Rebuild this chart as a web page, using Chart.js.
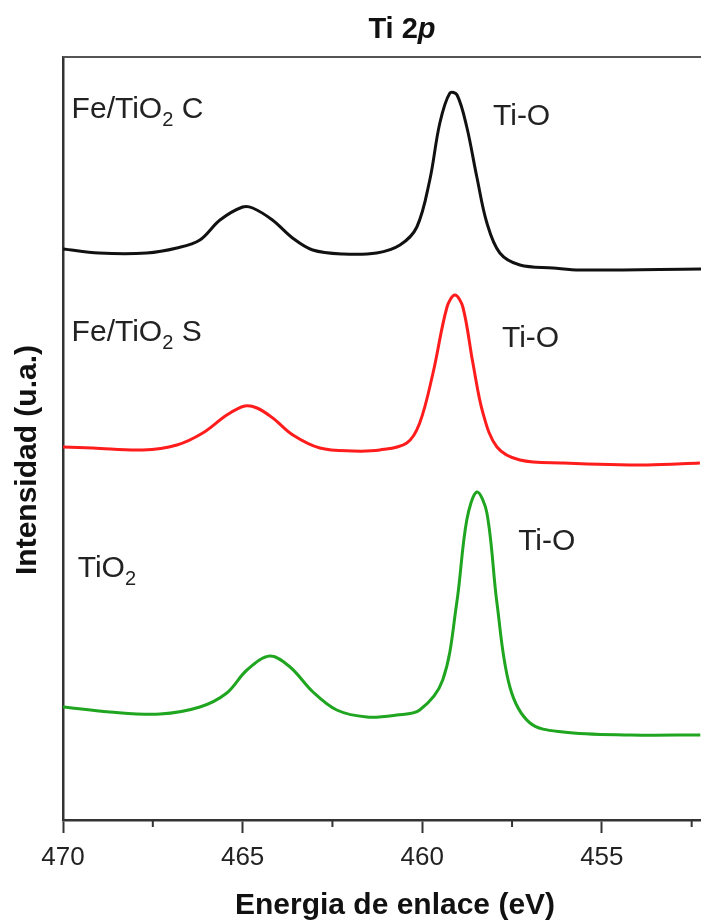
<!DOCTYPE html>
<html>
<head>
<meta charset="utf-8">
<script src="https://cdn.jsdelivr.net/npm/chart.js@4.4.1/dist/chart.umd.min.js"></script>
<style>
  html, body { margin: 0; padding: 0; background: #fff; }
  #wrap { width: 701px; height: 922px; position: relative; }
</style>
</head>
<body>
<div id="wrap"><canvas id="chart"></canvas></div>
<script>
// binding energy (eV) and intensity (a.u., offset stacked)
const feTiO2cEnergy = [470.0, 469.0, 467.67, 466.83, 466.19, 465.63, 465.0, 464.72, 464.17, 463.61, 463.05, 462.21, 461.27, 460.62, 460.15, 459.79, 459.51, 459.23, 459.03, 458.76, 458.48, 458.2, 457.84, 457.28, 456.36, 455.61, 452.24];
const feTiO2cIntensity = [571, 567, 567, 572, 580, 600, 613, 612, 600, 582, 570, 566, 567, 575, 593, 640, 697, 727, 725, 693, 643, 597, 567, 555, 552, 550, 551];

const feTiO2sEnergy = [470.0, 469.17, 467.78, 466.83, 466.11, 465.44, 464.94, 464.6, 464.16, 463.6, 462.85, 461.93, 461.18, 460.43, 460.07, 459.7, 459.31, 459.09, 458.87, 458.59, 458.31, 457.92, 457.28, 456.08, 453.74, 452.27];
const feTiO2sIntensity = [373, 372, 370, 375, 387, 405, 414, 412, 402, 385, 372, 369, 370, 377, 397, 447, 513, 525, 513, 457, 407, 373, 360, 357, 355, 357];

const tiO2Energy = [470.0, 468.7, 467.3, 466.19, 465.44, 464.88, 464.24, 463.68, 463.04, 462.38, 461.54, 460.71, 460.07, 459.43, 459.04, 458.76, 458.48, 458.2, 457.92, 457.56, 457.0, 456.08, 454.21, 452.26];
const tiO2Intensity = [113, 108, 106, 113, 127, 150, 164, 153, 128, 110, 103, 105, 110, 140, 217, 300, 328, 307, 217, 133, 97, 88, 85, 85];

const majorTicks = [470, 465, 460, 455];
const minorTicks = [467.5, 462.5, 457.5, 452.5];

// sample labels: [main, subscript, tail], anchored in data units
const sampleLabels = [
  { parts: ['Fe/TiO', '2', ' C'], x: 469.76, y: 702 },
  { parts: ['Fe/TiO', '2', ' S'], x: 469.76, y: 479 },
  { parts: ['TiO', '2', ''], x: 469.59, y: 243 }
];
const peakLabels = [
  { text: 'Ti-O', x: 458.03, y: 695 },
  { text: 'Ti-O', x: 457.78, y: 473 },
  { text: 'Ti-O', x: 457.33, y: 270 }
];

const FONT = '"Liberation Sans", Arial, sans-serif';

function toPoints(xs, ys) {
  return xs.map((x, i) => ({ x: x, y: ys[i] }));
}

const textPlugin = {
  id: 'xpsText',
  afterDraw(chart) {
    const ctx = chart.ctx;
    const area = chart.chartArea;
    const xs = chart.scales.x;
    const ys = chart.scales.y;
    ctx.save();

    // top frame line
    ctx.strokeStyle = '#555';
    ctx.lineWidth = 2;
    ctx.beginPath();
    ctx.moveTo(area.left, area.top);
    ctx.lineTo(area.right, area.top);
    ctx.stroke();

    // minor ticks
    ctx.strokeStyle = '#333';
    ctx.lineWidth = 2;
    minorTicks.forEach(v => {
      const px = xs.getPixelForValue(v);
      ctx.beginPath();
      ctx.moveTo(px, area.bottom);
      ctx.lineTo(px, area.bottom + 7);
      ctx.stroke();
    });

    ctx.fillStyle = '#222';
    ctx.textBaseline = 'alphabetic';
    ctx.textAlign = 'left';

    sampleLabels.forEach(l => {
      let px = xs.getPixelForValue(l.x);
      const py = ys.getPixelForValue(l.y);
      ctx.font = '30px ' + FONT;
      ctx.fillText(l.parts[0], px, py);
      px += ctx.measureText(l.parts[0]).width;
      ctx.font = '20px ' + FONT;
      ctx.fillText(l.parts[1], px, py + 8);
      px += ctx.measureText(l.parts[1]).width;
      ctx.font = '30px ' + FONT;
      ctx.fillText(l.parts[2], px, py);
    });

    ctx.font = '30px ' + FONT;
    peakLabels.forEach(l => {
      ctx.fillText(l.text, xs.getPixelForValue(l.x), ys.getPixelForValue(l.y));
    });

    // title "Ti 2p" with italic p
    ctx.fillStyle = '#111';
    ctx.font = 'bold 29px ' + FONT;
    const t1 = 'Ti 2';
    const w1 = ctx.measureText(t1).width;
    ctx.font = 'italic bold 29px ' + FONT;
    const w2 = ctx.measureText('p').width;
    let tx = 402 - (w1 + w2) / 2;
    ctx.font = 'bold 29px ' + FONT;
    ctx.fillText(t1, tx, 38);
    ctx.font = 'italic bold 29px ' + FONT;
    ctx.fillText('p', tx + w1, 38);

    // axis titles
    ctx.font = 'bold 30px ' + FONT;
    ctx.textAlign = 'center';
    ctx.fillText('Energia de enlace (eV)', 395, 914);

    ctx.translate(28, 460);
    ctx.rotate(-Math.PI / 2);
    ctx.textBaseline = 'middle';
    ctx.fillText('Intensidad (u.a.)', 0, 0);

    ctx.restore();
  }
};

const lineStyle = {
  borderWidth: 3,
  pointRadius: 0,
  fill: false,
  tension: 0.35
};

new Chart(document.getElementById('chart'), {
  type: 'line',
  data: {
    datasets: [
      Object.assign({ label: 'Fe/TiO2 C', data: toPoints(feTiO2cEnergy, feTiO2cIntensity), borderColor: '#111111' }, lineStyle),
      Object.assign({ label: 'Fe/TiO2 S', data: toPoints(feTiO2sEnergy, feTiO2sIntensity), borderColor: '#ff1c1c' }, lineStyle),
      Object.assign({ label: 'TiO2', data: toPoints(tiO2Energy, tiO2Intensity), borderColor: '#1fa51f' }, lineStyle)
    ]
  },
  options: {
    responsive: true,
    maintainAspectRatio: false,
    animation: false,
    layout: { padding: { top: 57, right: 0, left: 0, bottom: 0 } },
    plugins: {
      legend: { display: false },
      tooltip: { enabled: false }
    },
    scales: {
      x: {
        type: 'linear',
        reverse: true,
        min: 452.24,
        max: 470,
        afterBuildTicks(scale) {
          scale.ticks = majorTicks.map(v => ({ value: v }));
        },
        afterFit(scale) {
          scale.height = 102;
        },
        border: { display: true, color: '#333', width: 2.5 },
        grid: { drawOnChartArea: false, drawTicks: true, tickLength: 13, tickColor: '#333', tickWidth: 2 },
        ticks: {
          padding: 9,
          color: '#222',
          font: { family: FONT, size: 26 },
          maxRotation: 0,
          autoSkip: false
        }
      },
      y: {
        min: 0,
        max: 763,
        afterFit(scale) {
          scale.width = 63;
        },
        border: { display: true, color: '#333', width: 2.5 },
        grid: { drawOnChartArea: false, drawTicks: false },
        ticks: { display: false }
      }
    }
  },
  plugins: [textPlugin]
});
</script>
</body>
</html>
